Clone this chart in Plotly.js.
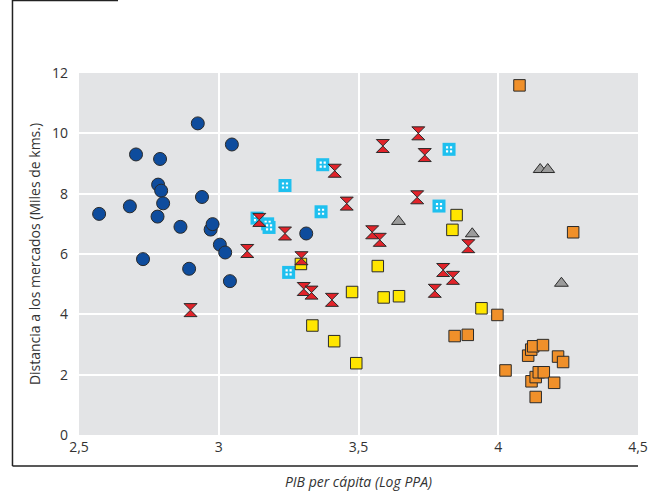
<!DOCTYPE html>
<html>
<head>
<meta charset="utf-8">
<script src="https://cdn.plot.ly/plotly-3.0.1.min.js"></script>
<style>html,body{margin:0;padding:0;background:#fff;}#chart{width:655px;height:495px;}</style>
</head>
<body>
<div id="chart"></div>
<script>
// Grupo 1 (círculos azules)
const blueX = [2.572, 2.682, 2.704, 2.729, 2.781, 2.783, 2.790, 2.794, 2.801, 2.863, 2.894, 2.925, 2.940, 2.971, 2.978, 3.004, 3.023, 3.040, 3.047, 3.313];
const blueY = [7.33, 7.58, 9.30, 5.83, 7.24, 8.30, 9.15, 8.10, 7.68, 6.90, 5.51, 10.33, 7.89, 6.81, 6.99, 6.31, 6.05, 5.10, 9.63, 6.68];
// Grupo 2 (relojes de arena rojos)
const redX = [2.899, 3.102, 3.145, 3.237, 3.296, 3.304, 3.332, 3.405, 3.415, 3.458, 3.549, 3.576, 3.587, 3.710, 3.714, 3.737, 3.773, 3.803, 3.838, 3.893];
const redY = [4.14, 6.10, 7.13, 6.68, 5.86, 4.84, 4.72, 4.48, 8.76, 7.67, 6.72, 6.47, 9.58, 7.88, 10.00, 9.28, 4.78, 5.47, 5.21, 6.26];
// Grupo 3 (cuadros celestes)
const cyanX = [3.137, 3.175, 3.180, 3.237, 3.250, 3.366, 3.372, 3.788, 3.824];
const cyanY = [7.19, 7.00, 6.88, 8.27, 5.39, 7.40, 8.96, 7.59, 9.47];
// Grupo 4 (triángulos grises)
const greyX = [3.643, 3.907, 4.150, 4.177, 4.226];
const greyY = [7.08, 6.67, 8.80, 8.80, 5.03];
// Grupo 5 (cuadrados amarillos)
const yellowX = [3.294, 3.335, 3.413, 3.477, 3.492, 3.569, 3.590, 3.645, 3.836, 3.851, 3.940];
const yellowY = [5.67, 3.63, 3.11, 4.74, 2.38, 5.60, 4.56, 4.60, 6.80, 7.29, 4.20];
// Grupo 6 (cuadrados naranjas)
const orangeX = [4.076, 4.268, 3.997, 3.844, 3.891, 4.026, 4.107, 4.118, 4.125, 4.160, 4.214, 4.232, 4.119, 4.134, 4.145, 4.163, 4.200, 4.134];
const orangeY = [11.59, 6.72, 3.98, 3.28, 3.32, 2.14, 2.63, 2.83, 2.94, 2.98, 2.60, 2.42, 1.78, 1.92, 2.08, 2.08, 1.73, 1.26];

const xTickVals = [2.5, 3, 3.5, 4, 4.5];
const xTickText = ['2,5', '3', '3,5', '4', '4,5'];
const yTickVals = [0, 2, 4, 6, 8, 10, 12];

const outline = {color: '#2a2a2a', width: 1};
const traces = [
  {x: blueX, y: blueY, type: 'scatter', mode: 'markers', hoverinfo: 'x+y',
   marker: {symbol: 'circle', size: 13, color: '#0e4c9d', line: outline}},
  {x: cyanX, y: cyanY, type: 'scatter', mode: 'markers', hoverinfo: 'skip',
   marker: {symbol: 'square', size: 13, color: '#1fc0ef', line: {width: 0}}},
  {x: cyanX, y: cyanY, type: 'scatter', mode: 'markers', hoverinfo: 'x+y',
   marker: {symbol: 'square-cross', size: 8, color: '#ffffff', line: {color: '#1fc0ef', width: 1.8}}},
  {x: yellowX, y: yellowY, type: 'scatter', mode: 'markers', hoverinfo: 'x+y',
   marker: {symbol: 'square', size: 11.5, color: '#ffe600', line: outline}},
  {x: orangeX, y: orangeY, type: 'scatter', mode: 'markers', hoverinfo: 'x+y',
   marker: {symbol: 'square', size: 11.5, color: '#f0902a', line: outline}},
  {x: greyX, y: greyY, type: 'scatter', mode: 'markers', hoverinfo: 'x+y',
   marker: {symbol: 'triangle-up', size: 12, color: '#9b9b9b', line: outline}},
  {x: redX, y: redY, type: 'scatter', mode: 'markers', hoverinfo: 'x+y',
   marker: {symbol: 'hourglass', size: 13, color: '#e2232a', line: outline}}
];

const font = {family: '"Open Sans", "Noto Sans", sans-serif', size: 14, color: '#333333'};

const layout = {
  width: 655, height: 495,
  margin: {l: 79, r: 17, t: 73, b: 60},
  paper_bgcolor: '#ffffff',
  plot_bgcolor: '#e3e4e6',
  showlegend: false,
  font: font,
  separators: ',.',
  xaxis: {
    range: [2.5, 4.5], tickvals: xTickVals, ticktext: xTickText,
    showgrid: true, gridcolor: '#ffffff', gridwidth: 2, zeroline: false,
    showline: false, ticks: '', ticklabelstandoff: 2, fixedrange: true,
    title: {text: 'PIB per cápita (Log PPA)', font: {family: font.family, size: 14, color: '#333333', style: 'italic'}, standoff: 22}
  },
  yaxis: {
    range: [0, 12], tickvals: yTickVals,
    showgrid: true, gridcolor: '#ffffff', gridwidth: 2, zeroline: false,
    showline: false, ticks: '', ticklabelstandoff: 10, fixedrange: true,
    title: {text: 'Distancia a los mercados (Miles de kms.)', font: {family: font.family, size: 14, color: '#333333'}, standoff: 8}
  },
  shapes: [
    {type: 'line', xref: 'paper', yref: 'paper', x0: -0.119, x1: -0.119, y0: 1.2017, y1: -0.0856, line: {color: '#222222', width: 1.5}},
    {type: 'line', xref: 'paper', yref: 'paper', x0: -0.119, x1: 1.0, y0: -0.0856, y1: -0.0856, line: {color: '#222222', width: 1.5}},
    {type: 'line', xref: 'paper', yref: 'paper', x0: -0.119, x1: 0.0698, y0: 1.2, y1: 1.2, line: {color: '#222222', width: 1.5}}
  ]
};

Plotly.newPlot('chart', traces, layout, {displayModeBar: false, staticPlot: true});
</script>
</body>
</html>
